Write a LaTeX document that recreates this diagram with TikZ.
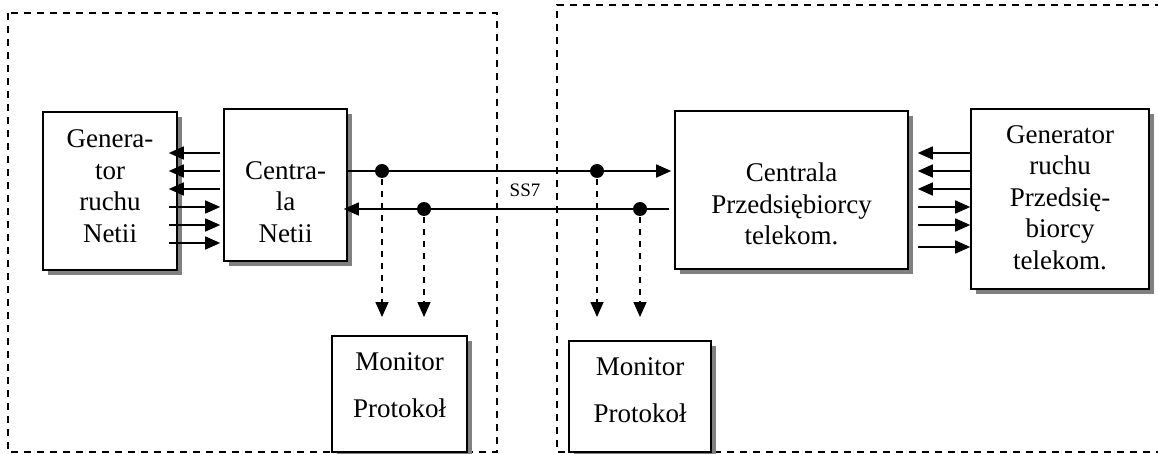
\documentclass[tikz,border=0pt]{standalone}
\usepackage{fontspec}
\setmainfont{Liberation Serif}
\usetikzlibrary{arrows.meta, shadows}

\begin{document}
\begin{tikzpicture}[x=1pt, y=-1pt, line width=1.6pt, >={Triangle[length=15pt, width=13pt]}]
    \tikzstyle{box} = [draw, fill=white, drop shadow={shadow xshift=5pt, shadow yshift=-5pt, fill=black!50, opacity=1}]
    \tikzstyle{txt} = [align=center, font=\fontsize{27pt}{31.5pt}\selectfont]
    \tikzstyle{dot} = [circle, fill, inner sep=0pt, minimum size=14pt]
    \tikzstyle{zone} = [line width=1.5pt, dash pattern=on 7pt off 6pt]
    \tikzstyle{tap} = [->, dash pattern=on 6pt off 6pt]
    \useasboundingbox (0,0) rectangle (1158,454);
    % the two network areas
    \draw [zone] (8,13) rectangle (497,452);
    \draw [zone] (1162,5) -| (557,452) -- (1162,452);
    \node [box, minimum width=134pt, minimum height=158pt,
        label={[txt, yshift=5pt]center:{Genera-\\tor\\ruchu\\Netii}}] at (110,191) (gn) {};
    \node [box, minimum width=123pt, minimum height=152pt,
        label={[txt, yshift=-17pt]center:{Centra-\\la\\Netii}}] at (285.5,185) (cn) {};
    \node [box, minimum width=233pt, minimum height=158pt,
        label={[txt, yshift=-14pt]center:{Centrala\\Przedsiębiorcy\\telekom.}}] at (791.5,190) (cp) {};
    \node [box, minimum width=178pt, minimum height=180pt,
        label={[txt, yshift=1.5pt]center:{Generator\\ruchu\\Przedsię-\\biorcy\\telekom.}}] at (1060,199) (gp) {};
    \node [box, minimum width=135pt, minimum height=116pt,
        label={[txt, yshift=9pt]center:{Monitor\\[15pt]Protokoł}}] at (399.5,394) (ml) {};
    \node [box, minimum width=142pt, minimum height=111pt,
        label={[txt, yshift=6.5pt]center:{Monitor\\[15pt]Protokoł}}] at (640,396.5) (mr) {};
    % SS7 link with taps
    \node [dot] at (382,171) (d1) {};
    \node [dot] at (597,171) (d2) {};
    \node [dot] at (424,209) (d3) {};
    \node [dot] at (640,209) (d4) {};
    \node [font=\fontsize{19pt}{22pt}\selectfont] at (525,190) (ss7) {SS7};
    \draw [->, shorten >=3pt] (cn.east |- d1) -- (cp.west |- d1);
    \draw [->, shorten <=5pt, shorten >=-4pt] (cp.west |- d3) -- (cn.east |- d3);
    \coordinate (tapend) at (0,317);
    \foreach \d in {d1,d2,d3,d4}
        \draw [tap] (\d) -- (\d |- tapend);
    % traffic lines
    \coordinate (gnin) at ([xshift=-9pt]gn.east);
    \coordinate (cpout) at ([xshift=9pt]cp.east);
    \foreach \y in {153,171,189} {
        \draw [->, shorten <=3pt] (cn.west |- 0,\y) -- (gnin |- 0,\y);
        \draw [->] (gp.west |- 0,\y) -- (cpout |- 0,\y);
    }
    \foreach \y in {207,225,243}
        \draw [->, shorten >=3pt] (gnin |- 0,\y) -- (cn.west |- 0,\y);
    \foreach \y in {207,225,247}
        \draw [->] (cpout |- 0,\y) -- (gp.west |- 0,\y);
\end{tikzpicture}
\end{document}
